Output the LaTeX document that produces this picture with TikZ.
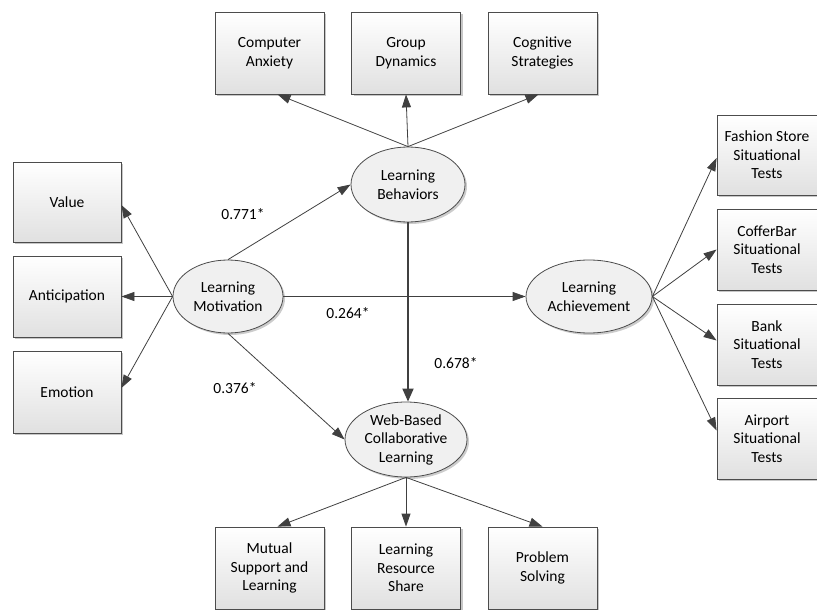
\documentclass[tikz,border=0pt]{standalone}
\usepackage{fontspec}
\setmainfont{Carlito}
\usetikzlibrary{shapes.geometric,arrows.meta,shadows}
\begin{document}
\begin{tikzpicture}[x=1pt,y=-1pt,
  every node/.style={font=\fontsize{15.5}{18.5}\selectfont, text=black},
  box/.style={rectangle, draw=black!70, line width=0.8pt, align=center,
    minimum width=109pt, minimum height=82pt, inner sep=2pt,
    top color=white, bottom color=black!12,
    general shadow={fill=black!22, shadow xshift=2pt, shadow yshift=-2pt}},
  ell/.style={ellipse, draw=black!70, line width=0.8pt, fill=black!6, inner sep=0pt,
    general shadow={fill=black!20, shadow xshift=2pt, shadow yshift=-2pt}},
  arr/.style={draw=black!75, line width=0.8pt, -{Triangle[length=13pt,width=9pt]}},
  thickarr/.style={draw=black!75, line width=1.8pt, -{Triangle[length=13pt,width=11pt]}},
  coef/.style={inner sep=0pt}
]
\useasboundingbox (0,0) rectangle (817,610);

% latent ellipses
\node[ell, minimum width=110pt, minimum height=73pt,
  label={[align=center]center:Learning\\Motivation}] (lm) at (228,296.5) {};
\node[ell, minimum width=114pt, minimum height=75pt,
  label={[align=center]center:Learning\\Behaviors}] (lb) at (408,184.5) {};
\node[ell, minimum width=126pt, minimum height=73pt,
  label={[align=center]center:Learning\\Achievement}] (la) at (589,296.5) {};
\node[ell, minimum width=122pt, minimum height=75pt,
  label={[align=center]center:Web-Based\\Collaborative\\Learning}] (wb) at (406,439.5) {};

% top boxes
\node[box] (ca) at (269.5,53) {Computer\\Anxiety};
\node[box] (gd) at (406,53) {Group\\Dynamics};
\node[box] (cs) at (542.5,53) {Cognitive\\Strategies};

% left boxes
\node[box, minimum width=108pt, minimum height=80pt] (va) at (67,202) {Value};
\node[box, minimum width=108pt, minimum height=81pt] (an) at (67,296.5) {Anticipation};
\node[box, minimum width=108pt, minimum height=82pt] (em) at (67,392) {Emotion};

% right boxes
\node[box, minimum width=100pt, minimum height=80pt] (fs) at (767,155) {Fashion Store\\Situational\\Tests};
\node[box, minimum width=100pt, minimum height=81pt] (cb) at (767,249.5) {CofferBar\\Situational\\Tests};
\node[box, minimum width=100pt, minimum height=81pt] (bk) at (767,344.5) {Bank\\Situational\\Tests};
\node[box, minimum width=100pt, minimum height=81pt] (ap) at (767,438.5) {Airport\\Situational\\Tests};

% bottom boxes
\node[box] (ms) at (269.5,568) {Mutual\\Support and\\Learning};
\node[box] (lr) at (406,568) {Learning\\Resource\\Share};
\node[box] (ps) at (542.5,568) {Problem\\Solving};

% indicator arrows
\draw[arr] (lb.north) -- ([xshift=8pt]ca.south);
\draw[arr] (lb.north) -- (gd.south);
\draw[arr] (lb.north) -- ([xshift=-4pt]cs.south);

\draw[arr] (lm.west) -- ([yshift=-3pt]va.east);
\draw[arr] (lm.west) -- (an.east);
\draw[arr] (lm.west) -- ([yshift=4pt]em.east);

\draw[arr] (la.east) -- ([yshift=-3pt]fs.west);
\draw[arr] (la.east) -- (cb.west);
\draw[arr] (la.east) -- ([yshift=4pt]bk.west);
\draw[arr] (la.east) -- ([yshift=8pt]ap.west);

\draw[arr] (wb.south) -- ([xshift=8pt]ms.north);
\draw[arr] (wb.south) -- (lr.north);
\draw[arr] (wb.south) -- (ps.north);

% structural paths
\draw[arr] (lm.north) -- (lb.west);
\draw[arr] (lm.east) -- (la.west);
\draw[arr] (lm.south) -- (wb.west);
\draw[thickarr] (lb.south) -- (lb.south |- wb.north);

% coefficients
\node[coef] (c1) at (243,214) {0.771*};
\node[coef] (c2) at (348,313) {0.264*};
\node[coef] (c3) at (456,363) {0.678*};
\node[coef] (c4) at (235,388) {0.376*};
\end{tikzpicture}
\end{document}
